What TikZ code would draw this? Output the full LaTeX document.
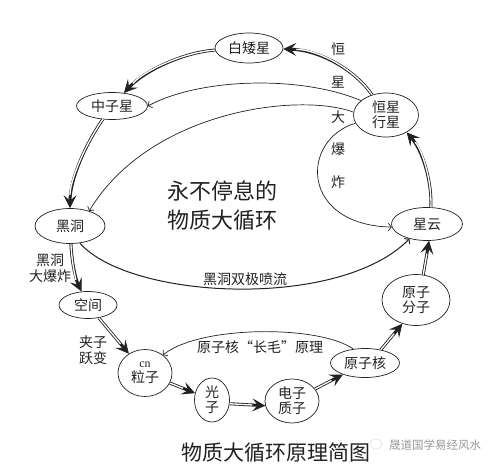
\documentclass[tikz,border=0pt]{standalone}
\usepackage{fontspec}
\usetikzlibrary{shapes.geometric,arrows.meta}
\newfontfamily\cjk{Noto Sans CJK SC}
\newfontfamily\latinserif{Liberation Serif}
\definecolor{ink}{HTML}{222222}
\begin{document}
\begin{tikzpicture}[x=1pt,y=-1pt,
  el/.style={draw=ink, ellipse, line width=0.7pt, inner sep=0pt, text=ink,
    font=\cjk\fontsize{14}{15}\selectfont, align=center},
  dbl/.style={draw=ink, line width=3pt,
    -{Stealth[length=13pt,width=13pt,inset=5.5pt,line width=0.8pt]},
    postaction={draw=white, line width=1.3pt, shorten >=13pt, -}},
  sarr/.style={draw=ink, line width=0.7pt, -{Straight Barb[length=3pt,width=7.5pt]}},
  lbl/.style={text=ink, font=\cjk\fontsize{14}{16}\selectfont, align=center, inner sep=0pt},
  big/.style={text=ink, font=\cjk\fontsize{22}{29}\selectfont, align=center, inner sep=0pt}
]
\useasboundingbox (0,0) rectangle (500,468);
\fill[white] (0,0) rectangle (500,468);

% nodes
\node[el, minimum width=68pt, minimum height=30pt] (bai) at (249,48) {白矮星};
\node[el, minimum width=71pt, minimum height=27pt] (zhong) at (112,106) {中子星};
\node[el, minimum width=65pt, minimum height=44pt] (heng) at (386,115) {恒星\\行星};
\node[el, minimum width=70pt, minimum height=35pt] (hei) at (70,226) {黑洞};
\node[el, minimum width=71pt, minimum height=33pt] (xingyun) at (427,224) {星云};
\node[el, minimum width=58pt, minimum height=27pt] (kong) at (88,305) {空间};
\node[el, minimum width=68pt, minimum height=51pt] (fenzi) at (416,300) {原子\\分子};
\node[el, minimum width=54pt, minimum height=47pt] (cn) at (145,373) {{\latinserif\fontsize{12}{12}\selectfont cn}\\粒子};
\node[el, minimum width=69pt, minimum height=29pt] (he) at (365,363) {原子核};
\node[el, minimum width=35pt, minimum height=44pt] (guang) at (212,400) {光\\子};
\node[el, minimum width=54pt, minimum height=44pt] (dian) at (292,401) {电子\\质子};

% double arrows (main cycle)
\draw[dbl] (heng) .. controls (355,70) and (320,50) .. (bai);
\draw[dbl] (bai) .. controls (185,52) and (145,70) .. (zhong);
\draw[dbl] (zhong) .. controls (85,145) and (70,180) .. (hei);
\draw[dbl] (hei) .. controls (72,265) and (76,280) .. (kong);
\draw[dbl] (kong) -- (cn);
\draw[dbl] (cn) -- (guang);
\draw[dbl] (guang.-12) -- (dian.190);
\draw[dbl] (dian) -- (he);
\draw[dbl] (he.40) -- (fenzi.-120);
\draw[dbl] (fenzi.74) -- (xingyun.-83);
\draw[dbl] (xingyun.77) .. controls (432,180) and (422,150) .. (heng.-40);

% single arrows
\draw[sarr] (heng.150) .. controls (300,75) and (200,78) .. (zhong.east);
\draw[sarr] (heng.175) .. controls (300,92) and (150,110) .. (hei.38);
\draw[sarr] (heng.195) .. controls (300,140) and (300,225) .. (xingyun.185);
\draw[sarr, line width=1pt] (hei.-60) .. controls (130,300) and (340,310) .. (xingyun.-140);
\draw[sarr] (he.130) .. controls (320,325) and (200,325) .. (cn.45);

% labels
\node[lbl] (t1) at (338,49) {恒};
\node[lbl] (t2) at (338,82) {星};
\node[lbl] (t3) at (338,117) {大};
\node[lbl] (t4) at (338,149) {爆};
\node[lbl] (t5) at (338,182) {炸};
\node[lbl] (bb) at (50,268) {黑洞\\大爆炸};
\node[lbl] (jz) at (93,350) {夹子\\跃变};
\node[lbl] (jet) at (245,279) {黑洞双极喷流};
\node[lbl] (zm) at (260,347) {原子核“长毛”原理};
\node[big] (center) at (222,206) {永不停息的\\物质大循环};
\node[text=ink, font=\cjk\fontsize{21}{21}\selectfont, inner sep=0pt] (title) at (276,453) {物质大循环原理简图};
\draw[gray!60, line width=0.5pt, densely dotted] (376,444) ellipse (6pt and 5pt);
\node[text=gray!80, font=\cjk\fontsize{11.5}{12}\selectfont, inner sep=0pt] (wm) at (435,445) {晟道国学易经风水};
\end{tikzpicture}
\end{document}
